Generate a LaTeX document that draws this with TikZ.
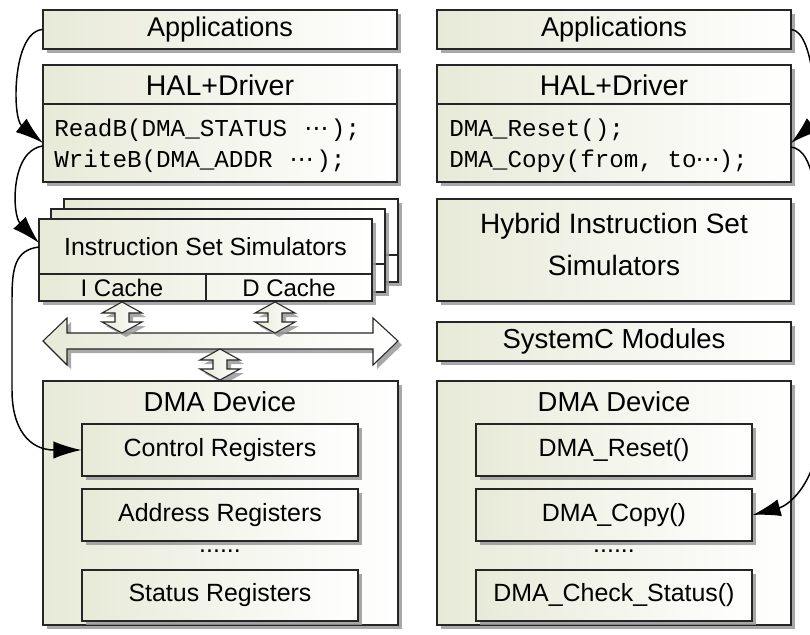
\documentclass[tikz,border=0pt]{standalone}
\usepackage{fontspec}
\setmainfont{Liberation Sans}
\setmonofont{Liberation Mono}
\newfontfamily\dejavufam{DejaVu Sans}
\usetikzlibrary{shadows,arrows.meta,fit}
\newcommand\midell{\makebox[2\fontcharwd\font`M][c]{\dejavufam ⋯}}
\newcommand\midelltight{\makebox[1.5\fontcharwd\font`M][c]{\dejavufam ⋯}}
\definecolor{boxL}{RGB}{232,234,216}
\begin{document}
\begin{tikzpicture}[x=0.75pt,y=-0.75pt,
  shad/.style={drop shadow={shadow xshift=3pt,shadow yshift=-3pt,fill=black!40,opacity=0.85}},
  box/.style={draw=black!85,line width=0.8pt,left color=boxL,right color=white,inner sep=0pt,shad},
  sepline/.style={draw=black!85,line width=0.8pt},
  barrow/.style={draw=black!85,line width=0.8pt,left color=boxL,right color=white,shad},
  conn/.style={line width=1.1pt,-{Latex[length=21pt,width=13pt]}},
  fApp/.style={font=\fontsize{20.3}{24}\selectfont},
  fHal/.style={font=\fontsize{21.4}{25}\selectfont},
  fIss/.style={font=\fontsize{18.6}{22}\selectfont},
  fCache/.style={font=\fontsize{18}{22}\selectfont},
  fHyb/.style={font=\fontsize{21}{31.5}\selectfont},
  fBig/.style={font=\fontsize{20.6}{24}\selectfont},
  fReg/.style={font=\fontsize{18.7}{22}\selectfont},
  code/.style={font=\ttfamily\fontsize{18.2}{20}\selectfont,inner sep=0pt},
  vdarr/.pic={\draw[barrow] (0,0) -- (20,11) -- (7,11) -- (7,20) -- (20,20) -- (0,31) -- (-20,20) -- (-7,20) -- (-7,11) -- (-20,11) -- cycle;}
]
\useasboundingbox (0,0) rectangle (810,635);
\fill[white] (0,0) rectangle (810,635);

% ---------------- left column ----------------
\node[box,fit={(43,10)(397,49)}] (appL) {};
\node[fApp] (appLt) at (220,29.5) {Applications};

\node[box,fit={(43,65)(397,182)}] (halL) {};
\draw[sepline] (43,104) -- (397,104);
\node[fHal] (halLt) at (220,85) {HAL+Driver};
\node[code,anchor=base west] (rdL) at (54,137) {ReadB(DMA\_STATUS \midell);};
\node[code,anchor=base west] (wrL) at (54,167) {WriteB(DMA\_ADDR \midell);};

\node[box,fit={(64,199)(398,282)}] (iss2) {};
\draw[sepline] (64,255) -- (398,255);
\node[box,fit={(51,209)(385,292)}] (iss1) {};
\draw[sepline] (51,264) -- (385,264);
\node[box,fit={(39,219)(372,301)}] (iss) {};
\draw[sepline] (39,274) -- (372,274);
\draw[sepline] (206,274) -- (206,301);
\node[fIss] (isst) at (205.5,246.5) {Instruction Set Simulators};
\node[fCache] (icache) at (122,287.5) {I Cache};
\node[fCache] (dcache) at (289,287.5) {D Cache};

% bus
\draw[barrow] (43,341) -- (67,318) -- (67,333) -- (373,333) -- (373,318) -- (398,341)
  -- (373,365) -- (373,349) -- (67,349) -- (67,365) -- cycle;
\pic at (122,302) {vdarr};
\pic at (275,302) {vdarr};
\pic at (220,349) {vdarr};

\node[box,fit={(43,381)(398,625)}] (dmaL) {};
\node[fBig] (dmaLt) at (220,401.5) {DMA Device};
\node[box,fit={(82,424)(358,476)}] (ctrl) {};
\node[fReg] (ctrlt) at (220,450) {Control Registers};
\node[box,fit={(82,489)(358,541)}] (addr) {};
\node[fReg] (addrt) at (220,515) {Address Registers};
\node[fReg] (dotsL) at (220,551) {......};
\node[box,fit={(82,570)(358,621)}] (stat) {};
\node[fReg] (statt) at (220,595.5) {Status Registers};

% ---------------- right column ----------------
\node[box,fit={(437,10)(791,49)}] (appR) {};
\node[fApp] (appRt) at (614,29.5) {Applications};

\node[box,fit={(437,65)(791,182)}] (halR) {};
\draw[sepline] (437,104) -- (791,104);
\node[fHal] (halRt) at (614,85) {HAL+Driver};
\node[code,anchor=base west] (rsR) at (449,137) {DMA\_Reset();};
\node[code,anchor=base west] (cpR) at (449,167) {DMA\_Copy(from, to\midelltight);};

\node[box,fit={(437,199)(791,301)}] (hyb) {};
\node[fHyb,align=center] (hybt) at (614,244) {Hybrid Instruction Set\\Simulators};

\node[box,fit={(437,322)(791,361)}] (sysc) {};
\node[fBig] (sysct) at (614,341.5) {SystemC Modules};

\node[box,fit={(437,381)(791,625)}] (dmaR) {};
\node[fBig] (dmaRt) at (614,401.5) {DMA Device};
\node[box,fit={(476,424)(752,476)}] (rst) {};
\node[fReg] (rstt) at (614,450) {DMA\_Reset()};
\node[box,fit={(476,489)(752,541)}] (cpy) {};
\node[fReg] (cpyt) at (614,515) {DMA\_Copy()};
\node[fReg] (dotsR) at (614,551) {......};
\node[box,fit={(476,570)(752,621)}] (chk) {};
\node[fReg] (chkt) at (614,595.5) {DMA\_Check\_Status()};

% ---------------- connectors ----------------
\coordinate (halLin) at (43,143);
\coordinate (halLout) at (43,146);
\coordinate (issin) at (39,243);
\coordinate (issout) at (39,247);
\coordinate (halRin) at (791,143);
\coordinate (halRout) at (791,147);

\draw[conn] (appL.west) .. controls (12,32) and (12,118) .. (halLin);
\draw[conn] (halLout) .. controls (10,150) and (12,215) .. (issin);
\draw[conn] (issout) .. controls (14,250) and (12,270) .. (12,300) -- (12,390)
  .. controls (12,430) and (30,450) .. (ctrl.west);
\draw[conn] (appR.east) .. controls (815,32) and (818,120) .. (halRin);
\draw[conn] (halRout) .. controls (815,150) and (820,200) .. (820,300) -- (820,420)
  .. controls (820,480) and (790,505) .. (cpy.east);
\end{tikzpicture}
\end{document}
